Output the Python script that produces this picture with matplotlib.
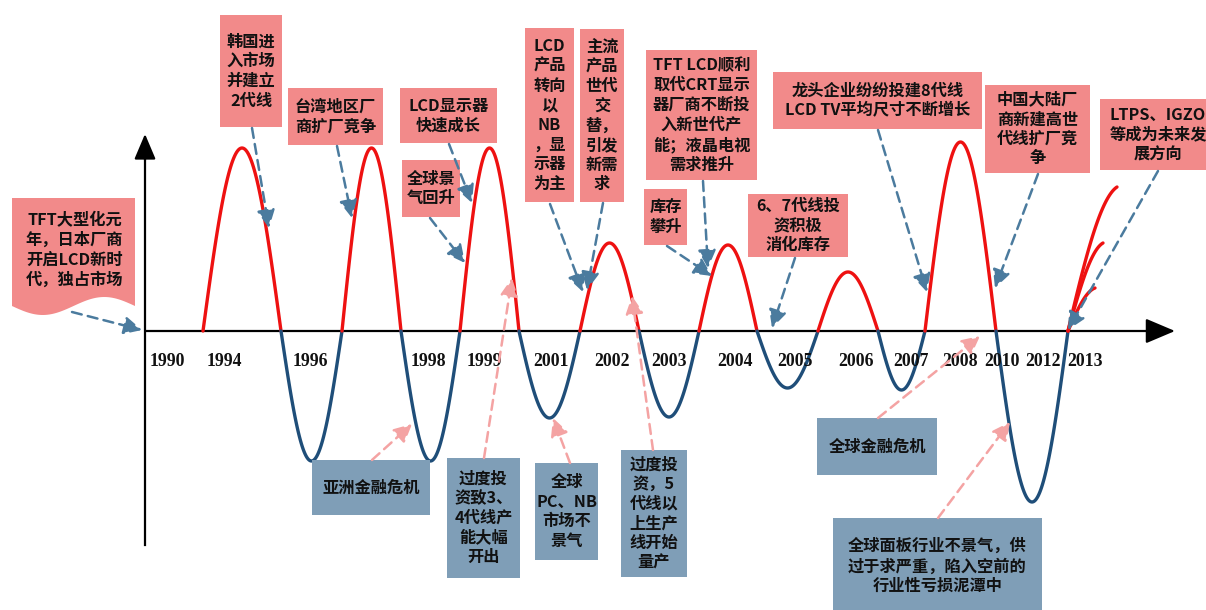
import numpy as np
import matplotlib
matplotlib.use('Agg')
import matplotlib.pyplot as plt
from matplotlib.patches import Rectangle, Polygon

plt.rcParams['font.family'] = ['Noto Sans CJK SC', 'DejaVu Sans']

# ---------------- data ----------------
years = ['1990', '1994', '1996', '1998', '1999', '2001', '2002', '2003',
         '2004', '2005', '2006', '2007', '2008', '2010', '2012', '2013']
year_pos = [167, 224, 310, 428, 484, 551, 612, 669, 735, 795, 856, 911,
            960, 1002, 1043, 1085]
# zero crossings of the cycle curve (horizontal position) and the extreme of each half-wave
crossings = [203, 281, 342, 401, 460, 519, 580, 639, 699, 757, 818, 878, 925, 996, 1068]
extremes = [183, -130, 183, -130, 183, -87, 88, -86, 86, -57, 59, -59, 189, -171]
# future directions fan starting at the last crossing
fan_dx = [49, 35, 27]
fan_h = [144, 88, 43]

# annotation texts
top_notes = [
    "TFT大型化元\n年，日本厂商\n开启LCD新时\n代，独占市场",
    "韩国进\n入市场\n并建立\n2代线",
    "台湾地区厂\n商扩厂竞争",
    "LCD显示器\n快速成长",
    "全球景\n气回升",
    "LCD\n产品\n转向\n以\nNB\n，显\n示器\n为主",
    "主流\n产品\n世代\n交\n替，\n引发\n新需\n求",
    "TFT LCD顺利\n取代CRT显示\n器厂商不断投\n入新世代产\n能；液晶电视\n需求推升",
    "库存\n攀升",
    "6、7代线投\n资积极\n消化库存",
    "龙头企业纷纷投建8代线\nLCD TV平均尺寸不断增长",
    "中国大陆厂\n商新建高世\n代线扩厂竞\n争",
    "LTPS、IGZO\n等成为未来发\n展方向",
]
bottom_notes = [
    "亚洲金融危机",
    "过度投\n资致3、\n4代线产\n能大幅\n开出",
    "全球\nPC、NB\n市场不\n景气",
    "过度投\n资，5\n代线以\n上生产\n线开始\n量产",
    "全球金融危机",
    "全球面板行业不景气，供\n过于求严重，陷入空前的\n行业性亏损泥潭中",
]

# ---------------- layout (pixel positions) ----------------
W, H = 1206, 610
BASE = 331  # pixel row of the horizontal axis

top_boxes = [(12, 198, 135, 308), (220, 15, 282, 127), (288, 88, 383, 145),
             (400, 88, 497, 143), (402, 160, 460, 217), (525, 28, 574, 202),
             (580, 29, 624, 202), (646, 50, 757, 180), (644, 189, 687, 245),
             (748, 194, 848, 257), (773, 72, 982, 129), (985, 85, 1090, 173),
             (1100, 99, 1216, 170)]
top_arrows = [((72, 312), (142, 330)), ((252, 128), (269, 228)), ((337, 146), (352, 218)),
              ((449, 144), (472, 203)), ((430, 218), (465, 263)), ((550, 204), (583, 292)),
              ((603, 203), (587, 290)), ((703, 181), (708, 268)), ((667, 246), (712, 276)),
              ((795, 258), (772, 328)), ((878, 130), (927, 292)), ((1038, 174), (995, 288)),
              ((1158, 171), (1068, 330))]
bottom_boxes = [(312, 460, 430, 515), (447, 458, 520, 578), (535, 463, 598, 560),
                (621, 450, 687, 577), (817, 418, 937, 475), (833, 518, 1042, 615)]
bottom_arrows = [((372, 460), (412, 424)), ((484, 458), (512, 278)), ((570, 463), (553, 418)),
                 ((653, 450), (632, 296)), ((878, 418), (980, 336)), ((938, 518), (1010, 422))]

RED = '#EE1111'
BLUE = '#1F4E79'
PINK_BOX = '#F28A8A'
BLUE_BOX = '#7F9EB7'
ARROW_BLUE = '#4B7B9E'
ARROW_PINK = '#F4A3A3'
TXT = '#111111'


def P(px, py):
    return px, BASE - py


fig = plt.figure(figsize=(W / 100, H / 100), dpi=100)
ax = fig.add_axes([0, 0, 1, 1])
ax.set_xlim(0, W)
ax.set_ylim(BASE - H, BASE)
ax.axis('off')

# ---------------- axes lines ----------------
ax.plot([145, 1150], [0, 0], color='black', lw=1.6, solid_capstyle='butt', zorder=3)
ax.annotate('', xy=P(1175, BASE), xytext=P(1148, BASE),
            arrowprops=dict(arrowstyle='-|>,head_length=1.3,head_width=0.55', color='black',
                            lw=1.6, shrinkA=0, shrinkB=0, mutation_scale=14), zorder=3)
ax.plot([145, 145], [BASE - 545, BASE - 150], color='black', lw=1.6, zorder=3)
ax.annotate('', xy=P(145, 134), xytext=P(145, 160),
            arrowprops=dict(arrowstyle='-|>,head_length=1.3,head_width=0.55', color='black',
                            lw=1.6, shrinkA=0, shrinkB=0, mutation_scale=12), zorder=3)

# ---------------- cycle curve ----------------
for i, amp in enumerate(extremes):
    x0, x1 = crossings[i], crossings[i + 1]
    xs = np.linspace(x0, x1, 80)
    ys = amp * np.sin(np.pi * (xs - x0) / (x1 - x0))
    ax.plot(xs, ys, color=RED if amp > 0 else BLUE, lw=2.4, zorder=4,
            solid_capstyle='round')
for dx, h in zip(fan_dx, fan_h):
    t = np.linspace(0, 1, 60)
    ax.plot(crossings[-1] + dx * t, h * np.sin(np.pi / 2 * 0.9 * t) / np.sin(np.pi / 2 * 0.9),
            color=RED, lw=2.4, zorder=4, solid_capstyle='round')

# ---------------- year labels ----------------
for lab, xp in zip(years, year_pos):
    ax.text(xp, BASE - 361, lab, ha='center', va='center', fontsize=12.8,
            fontweight='bold', family='Liberation Serif', color=TXT, zorder=5)


# ---------------- annotation boxes ----------------
def dashed_arrow(p0, p1, color):
    ax.annotate('', xy=P(*p1), xytext=P(*p0),
                arrowprops=dict(arrowstyle='-|>,head_length=0.9,head_width=0.45',
                                color=color, lw=1.8, linestyle=(0, (4, 2.5)),
                                shrinkA=0, shrinkB=0, mutation_scale=12), zorder=6)


for k, (txt, box, arr) in enumerate(zip(top_notes, top_boxes, top_arrows)):
    x0, y0, x1, y1 = box
    if k == 0:
        xs = np.linspace(x0, x1, 60)
        wave = y1 - 2 + 9 * np.sin(2 * np.pi * (xs - x0) / (x1 - x0))
        pts = [P(x0, y0), P(x1, y0)] + [P(x, y) for x, y in zip(xs[::-1], wave[::-1])]
        ax.add_patch(Polygon(pts, closed=True, facecolor=PINK_BOX, edgecolor='none', zorder=5))
        cx, cy = (x0 + x1) / 2 + 1, 250
    else:
        ax.add_patch(Rectangle(P(x0, y1), x1 - x0, y1 - y0, facecolor=PINK_BOX,
                               edgecolor='none', zorder=5))
        cx, cy = (x0 + x1) / 2, (y0 + y1) / 2
    if k == 12:
        cx = 1158
    ax.text(*P(cx, cy), txt, ha='center', va='center', multialignment='center',
            fontsize=11.7, fontweight='heavy', color=TXT, linespacing=1.28, zorder=7)
    dashed_arrow(arr[0], arr[1], ARROW_BLUE)

for txt, box, arr in zip(bottom_notes, bottom_boxes, bottom_arrows):
    x0, y0, x1, y1 = box
    ax.add_patch(Rectangle(P(x0, y1), x1 - x0, y1 - y0, facecolor=BLUE_BOX,
                           edgecolor='none', zorder=5))
    cx, cy = (x0 + x1) / 2, (y0 + y1) / 2
    if y1 > H:
        cy = 566
    ax.text(*P(cx, cy), txt, ha='center', va='center', multialignment='center',
            fontsize=11.7, fontweight='heavy', color=TXT, linespacing=1.28, zorder=7)
    dashed_arrow(arr[0], arr[1], ARROW_PINK)

fig.savefig('out.png', dpi=100)
